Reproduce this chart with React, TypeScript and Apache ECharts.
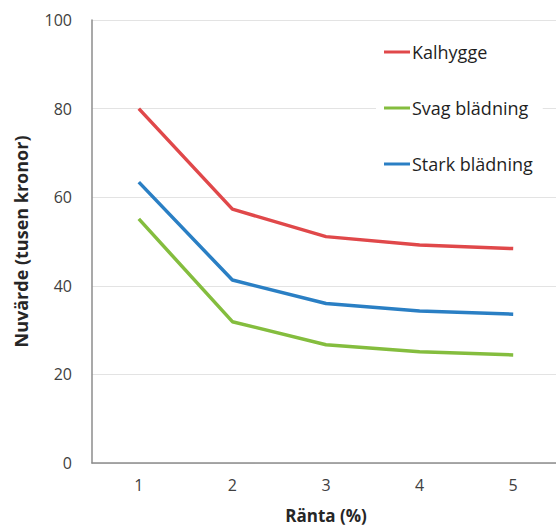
import React, { useEffect, useRef } from "react";
import * as echarts from "echarts";

const categories = ["1", "2", "3", "4", "5"];
const kalhygge = [80, 57.3, 51.1, 49.2, 48.4];
const svag = [55.1, 31.9, 26.7, 25.1, 24.4];
const stark = [63.4, 41.3, 36.0, 34.3, 33.6];
const seriesNames = ["Kalhygge", "Svag blädning", "Stark blädning"];
const colors = ["#e0484a", "#84bd3e", "#2a7fc4"];

export default function App() {
  const ref = useRef<HTMLDivElement>(null);
  useEffect(() => {
    document.body.style.margin = "0";
    const chart = echarts.init(ref.current!, null, { renderer: "svg" });
    const font = "'Open Sans', 'Liberation Sans', sans-serif";
    const data = [kalhygge, svag, stark];
    chart.setOption({
      animation: false,
      textStyle: { fontFamily: font },
      grid: { left: 92, top: 20, bottom: 67, right: -4, outerBoundsMode: "none", containLabel: false },
      legend: {
        orient: "vertical",
        left: 376,
        top: 36,
        itemWidth: 26,
        itemHeight: 3,
        itemGap: 36,
        icon: "rect",
        backgroundColor: "#ffffff",
        padding: [6, 10, 6, 8],
        textStyle: { fontSize: 18, lineHeight: 20, color: "#1f1f1f", fontFamily: font, padding: [0, 0, 0, -3] },
        data: seriesNames,
      },
      xAxis: {
        type: "category",
        data: categories,
        axisLine: { show: true, lineStyle: { color: "#8c8c8c", width: 1.5 } },
        axisTick: { show: false },
        axisLabel: { color: "#404040", fontSize: 16, margin: 14 },
        name: "Ränta (%)",
        nameLocation: "middle",
        nameGap: 44,
        nameTextStyle: { fontWeight: "bold", fontSize: 17, color: "#262626" },
      },
      yAxis: {
        type: "value",
        min: 0,
        max: 100,
        interval: 20,
        axisLine: { show: true, lineStyle: { color: "#8c8c8c", width: 1.5 } },
        axisTick: { show: false },
        axisLabel: { color: "#404040", fontSize: 16, margin: 20 },
        splitLine: { lineStyle: { color: "#e3e3e3", width: 1 } },
        name: "Nuvärde (tusen kronor)",
        nameLocation: "middle",
        nameGap: 62,
        nameRotate: 90,
        nameTextStyle: { fontWeight: "bold", fontSize: 18, color: "#262626" },
      },
      series: seriesNames.map((n, i) => ({
        name: n,
        type: "line",
        data: data[i],
        showSymbol: false,
        symbol: "none",
        lineStyle: { color: colors[i], width: 3.5 },
        itemStyle: { color: colors[i] },
      })),
    });
    return () => chart.dispose();
  }, []);
  return <div ref={ref} style={{ width: 556, height: 530 }} />;
}
